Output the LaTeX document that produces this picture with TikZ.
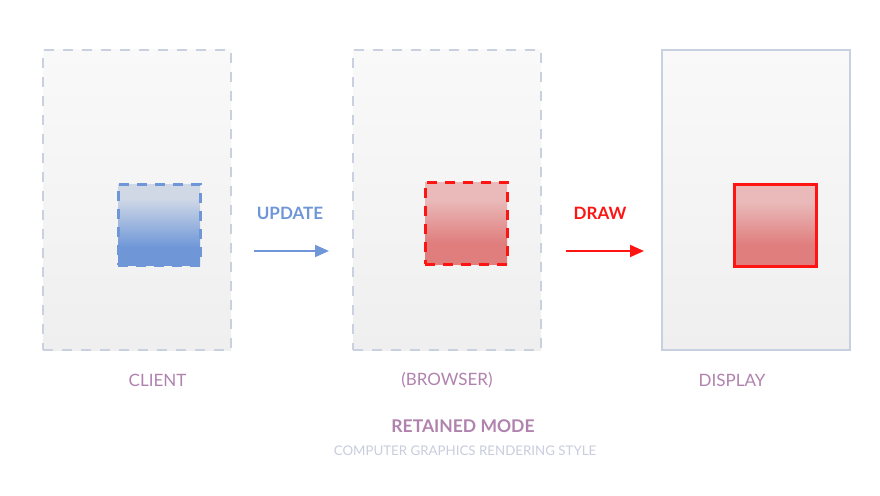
\documentclass[tikz,border=0pt]{standalone}
\usepackage{fontspec}
\setmainfont{Lato}
\usetikzlibrary{arrows.meta}
\definecolor{panelline}{HTML}{C9D0E0}
\definecolor{paneltop}{HTML}{F9F9F9}
\definecolor{panelbot}{HTML}{EFEFEF}
\definecolor{bluec}{HTML}{6F97D8}
\definecolor{bluetop}{HTML}{D0D8E6}
\definecolor{redc}{HTML}{FF1414}
\definecolor{redtop}{HTML}{EAB9B9}
\definecolor{redbot}{HTML}{E07E7E}
\definecolor{mixc}{HTML}{B083AE}
\definecolor{subc}{HTML}{C9CDDD}
\pgfdeclareverticalshading{blueshade}{100bp}{color(0bp)=(bluec); color(36bp)=(bluec); color(66bp)=(bluetop); color(100bp)=(bluetop)}
\pgfdeclareverticalshading{redshade}{100bp}{color(0bp)=(redbot); color(38bp)=(redbot); color(64bp)=(redtop); color(100bp)=(redtop)}
\tikzset{
  panel/.style={draw=panelline, line width=2pt, top color=paneltop, bottom color=panelbot, minimum width=188pt, minimum height=300pt, inner sep=0pt},
  dpanel/.style={panel, dash pattern=on 10pt off 9pt},
  bluebox/.style={draw=bluec, line width=3pt, dash pattern=on 10pt off 8pt, shading=blueshade, minimum width=82pt, minimum height=81pt, inner sep=0pt},
  redbox/.style={draw=redc, line width=3pt, shading=redshade, minimum width=82pt, minimum height=82pt, inner sep=0pt},
  lbl/.style={font=\fontsize{17}{20}\selectfont, text=mixc, inner sep=0pt},
  actlbl/.style={font=\bfseries\fontsize{17}{20}\selectfont, inner sep=0pt},
  conn/.style={line width=2pt, -{Triangle[length=14pt,width=12pt]}}
}
\begin{document}
\begin{tikzpicture}[x=1pt,y=-1pt]
\useasboundingbox (0,0) rectangle (880,495);
\fill[white] (0,0) rectangle (880,495);
% panels
\node[dpanel] (client) at (137,200) {};
\node[dpanel] (browser) at (447,200) {};
\node[panel] (display) at (756,200) {};
% inner boxes
\node[bluebox] (cbox) at (159,224.5) {};
\node[redbox, dash pattern=on 10pt off 8pt] (bbox) at (466,223) {};
\node[redbox] (dbox) at (775.5,225) {};
% action labels and arrows
\node[actlbl, text=bluec] (upd) at (290,213) {UPDATE};
\coordinate (u1) at (254,251);
\coordinate (u2) at (329,251);
\draw[conn, bluec] (u1) -- (u2);
\node[actlbl, text=redc] (drw) at (600,213) {DRAW};
\coordinate (d1) at (566,251);
\coordinate (d2) at (644,251);
\draw[conn, redc] (d1) -- (d2);
% panel labels
\node[lbl] (lclient) at (157.5,380.5) {CLIENT};
\node[lbl] (lbrowser) at (447,380.5) {(BROWSER)};
\node[lbl] (ldisplay) at (732,380.5) {DISPLAY};
% titles
\node[font=\bfseries\fontsize{17.5}{21}\selectfont, text=mixc, inner sep=0pt] (title) at (463,426) {RETAINED MODE};
\node[font=\fontsize{13.3}{16}\selectfont, text=subc, inner sep=0pt] (sub) at (465,451) {COMPUTER GRAPHICS RENDERING STYLE};
\end{tikzpicture}
\end{document}
